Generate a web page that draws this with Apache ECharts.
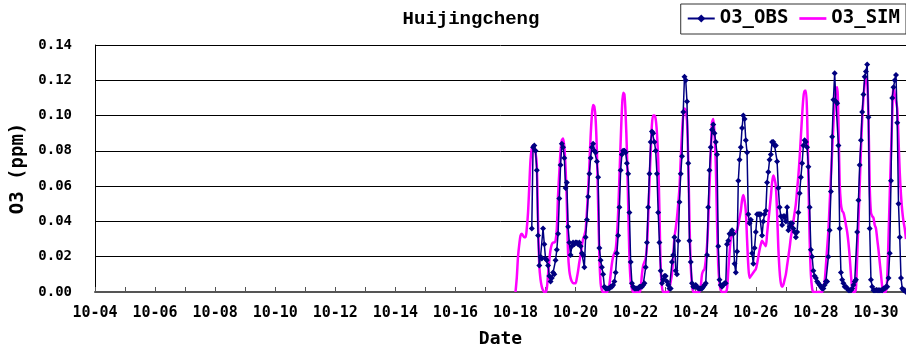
<!DOCTYPE html>
<html>
<head>
<meta charset="utf-8">
<script src="https://cdn.jsdelivr.net/npm/echarts@6/dist/echarts.min.js"></script>
<style>
  html, body { margin: 0; padding: 0; background: #fff; }
  #chart { width: 906px; height: 352px; }
</style>
</head>
<body>
<div id="chart"></div>
<script>
// hourly values, one row per day starting 10-18 (h0..h23)
const firstDay = 4;
const lastDay = 31;
const dataStartDay = 18;

const simRows = [
  [0, 0.008, 0.020, 0.027, 0.032, 0.033, 0.032, 0.031, 0.031, 0.036, 0.045, 0.060, 0.075, 0.081, 0.083, 0.082, 0.079, 0.072, 0.040, 0.015, 0.007, 0.003, 0.001, 0],
  [0, 0.002, 0.010, 0.018, 0.024, 0.027, 0.028, 0.028, 0.029, 0.036, 0.055, 0.068, 0.080, 0.086, 0.087, 0.082, 0.070, 0.050, 0.022, 0.012, 0.008, 0.006, 0.005, 0.005],
  [0.005, 0.008, 0.012, 0.017, 0.021, 0.026, 0.030, 0.032, 0.035, 0.045, 0.058, 0.072, 0.088, 0.100, 0.106, 0.105, 0.098, 0.080, 0.050, 0.020, 0.005, 0.001, 0, 0],
  [0, 0, 0.001, 0.004, 0.010, 0.016, 0.020, 0.022, 0.024, 0.032, 0.045, 0.065, 0.085, 0.103, 0.113, 0.112, 0.100, 0.080, 0.050, 0.020, 0.006, 0.002, 0, 0],
  [0, 0, 0, 0, 0.002, 0.010, 0.015, 0.017, 0.019, 0.026, 0.042, 0.062, 0.079, 0.095, 0.100, 0.100, 0.098, 0.090, 0.075, 0.045, 0.014, 0.003, 0, 0],
  [0, 0, 0, 0.002, 0.006, 0.010, 0.020, 0.031, 0.036, 0.042, 0.050, 0.059, 0.075, 0.090, 0.100, 0.104, 0.103, 0.097, 0.075, 0.040, 0.015, 0.004, 0, 0],
  [0, 0, 0, 0, 0.003, 0.010, 0.012, 0.013, 0.018, 0.026, 0.040, 0.060, 0.078, 0.096, 0.098, 0.090, 0.073, 0.040, 0.015, 0.005, 0.001, 0, 0, 0],
  [0, 0.002, 0.012, 0.022, 0.030, 0.032, 0.033, 0.033, 0.034, 0.035, 0.038, 0.042, 0.046, 0.052, 0.055, 0.052, 0.046, 0.030, 0.015, 0.008, 0.009, 0.010, 0.011, 0.012],
  [0.013, 0.016, 0.020, 0.024, 0.027, 0.029, 0.028, 0.027, 0.026, 0.033, 0.040, 0.047, 0.054, 0.062, 0.066, 0.064, 0.060, 0.045, 0.025, 0.012, 0.005, 0.003, 0.004, 0.007],
  [0.010, 0.015, 0.020, 0.025, 0.031, 0.035, 0.040, 0.045, 0.050, 0.058, 0.066, 0.076, 0.088, 0.100, 0.110, 0.114, 0.114, 0.100, 0.065, 0.030, 0.010, 0.002, 0, 0],
  [0, 0, 0, 0, 0, 0, 0.002, 0.006, 0.015, 0.025, 0.035, 0.050, 0.065, 0.080, 0.095, 0.108, 0.115, 0.116, 0.096, 0.062, 0.050, 0.046, 0.045, 0.042],
  [0.038, 0.034, 0.028, 0.020, 0.010, 0.002, 0, 0, 0.002, 0.020, 0.040, 0.060, 0.081, 0.098, 0.110, 0.118, 0.121, 0.119, 0.100, 0.060, 0.045, 0.043, 0.042, 0.038],
  [0.036, 0.030, 0.024, 0.017, 0.010, 0.003, 0, 0, 0, 0.008, 0.030, 0.055, 0.078, 0.100, 0.116, 0.112, 0.108, 0.104, 0.087, 0.068, 0.055, 0.046, 0.040, 0.036],
  [0.030]
];

const obsRows = [
  [null, null, null, null, null, null, null, null, null, null, null, null, null, 0.036, 0.082, 0.083, 0.080, 0.069, 0.032, 0.015, 0.020, 0.019, 0.036, 0.027],
  [0.019, 0.018, 0.015, 0.009, 0.006, 0.008, 0.011, 0.010, 0.018, 0.024, 0.033, 0.053, 0.072, 0.084, 0.082, 0.076, 0.059, 0.062, 0.037, 0.028, 0.021, 0.026, 0.028, 0.027],
  [0.028, 0.028, 0.027, 0.028, 0.026, 0.022, 0.021, 0.014, 0.031, 0.041, 0.054, 0.067, 0.076, 0.082, 0.084, 0.080, 0.079, 0.074, 0.065, 0.025, 0.018, 0.014, 0.010, 0.003],
  [0.002, 0.002, 0.002, 0.002, 0.003, 0.003, 0.004, 0.006, 0.011, 0.022, 0.032, 0.048, 0.069, 0.078, 0.080, 0.080, 0.079, 0.073, 0.067, 0.045, 0.017, 0.005, 0.003, 0.002],
  [0.002, 0.002, 0.002, 0.003, 0.003, 0.003, 0.004, 0.005, 0.014, 0.028, 0.048, 0.067, 0.085, 0.091, 0.090, 0.085, 0.080, 0.067, 0.045, 0.028, 0.012, 0.005, 0.007, 0.009],
  [0.009, 0.006, 0.004, 0.002, 0.002, 0.017, 0.021, 0.031, 0.012, 0.010, 0.029, 0.051, 0.067, 0.077, 0.102, 0.122, 0.120, 0.108, 0.073, 0.029, 0.017, 0.005, 0.003, 0.003],
  [0.004, 0.003, 0.002, 0.002, 0.002, 0.002, 0.003, 0.004, 0.005, 0.021, 0.048, 0.069, 0.082, 0.092, 0.095, 0.090, 0.085, 0.078, 0.026, 0.007, 0.004, 0.003, 0.004, 0.005],
  [0.005, 0.027, 0.029, 0.033, 0.033, 0.035, 0.033, 0.016, 0.011, 0.023, 0.063, 0.075, 0.082, 0.093, 0.100, 0.098, 0.086, 0.079, 0.044, 0.039, 0.041, 0.022, 0.016, 0.025],
  [0.034, 0.044, 0.044, 0.044, 0.044, 0.032, 0.040, 0.044, 0.046, 0.062, 0.068, 0.075, 0.078, 0.085, 0.085, 0.083, 0.083, 0.074, 0.059, 0.048, 0.043, 0.038, 0.043, 0.043],
  [0.040, 0.048, 0.035, 0.037, 0.039, 0.039, 0.036, 0.034, 0.031, 0.034, 0.045, 0.056, 0.065, 0.073, 0.083, 0.086, 0.085, 0.082, 0.071, 0.048, 0.024, 0.020, 0.012, 0.009],
  [0.008, 0.006, 0.005, 0.004, 0.003, 0.002, 0.002, 0.004, 0.006, 0.006, 0.020, 0.035, 0.057, 0.088, 0.109, 0.124, 0.108, 0.107, 0.083, 0.036, 0.011, 0.007, 0.005, 0.003],
  [0.003, 0.002, 0.001, 0.001, 0.001, 0.002, 0.004, 0.006, 0.007, 0.034, 0.052, 0.072, 0.086, 0.102, 0.112, 0.122, 0.125, 0.129, 0.099, 0.036, 0.007, 0.003, 0.001, 0.001],
  [0.001, 0.001, 0.001, 0.001, 0.001, 0.001, 0.002, 0.002, 0.003, 0.003, 0.008, 0.022, 0.063, 0.110, 0.116, 0.120, 0.123, 0.096, 0.050, 0.031, 0.008, 0.002, 0.001, 0.001],
  [0]
];

const seriesNames = ['O3_OBS', 'O3_SIM'];

function toPoints(rows) {
  const out = [];
  rows.forEach((row, i) => {
    const dayOffset = (dataStartDay + i - firstDay) * 24;
    row.forEach((v, h) => {
      if (v !== null) out.push([dayOffset + h, v]);
    });
  });
  return out;
}

const pad = (n) => (n < 10 ? '0' + n : '' + n);
const mono = 'DejaVu Sans Mono';

const chart = echarts.init(document.getElementById('chart'), null, { renderer: 'canvas' });
chart.setOption({
  animation: false,
  backgroundColor: '#fff',
  title: {
    text: 'Huijingcheng',
    left: 466,
    top: 5,
    textAlign: 'center',
    textStyle: { fontFamily: 'Liberation Mono', fontSize: 19, fontWeight: 'bold', color: '#000' }
  },
  legend: {
    orient: 'horizontal',
    right: 0,
    top: 4,
    width: 250,
    padding: [5, 6, 6, 6],
    itemGap: 11,
    itemWidth: 27,
    itemHeight: 10,
    borderColor: '#333',
    borderWidth: 1,
    backgroundColor: '#fff',
    textStyle: { fontFamily: mono, fontSize: 19, fontWeight: 'bold', color: '#000' },
    data: [
      { name: seriesNames[0] },
      { name: seriesNames[1], icon: 'path://M0,0 L20,0 L20,2 L0,2 Z' }
    ]
  },
  grid: { left: 95, right: 0, top: 45, bottom: 60, containLabel: false, outerBoundsMode: 'none' },
  xAxis: {
    type: 'value',
    min: 0,
    max: (lastDay - firstDay) * 24,
    interval: 24,
    name: 'Date',
    nameLocation: 'middle',
    nameGap: 38,
    nameTextStyle: { fontFamily: mono, fontSize: 18, fontWeight: 'bold', color: '#000' },
    axisLine: { lineStyle: { color: '#555', width: 2 } },
    axisTick: { inside: true, length: 5, lineStyle: { color: '#555' } },
    splitLine: { show: false },
    axisLabel: {
      margin: 14,
      fontFamily: mono,
      fontSize: 15,
      fontWeight: 'bold',
      color: '#000',
      formatter: (v) => {
        const d = Math.round(v / 24);
        return d % 2 === 0 ? '10-' + pad(firstDay + d) : '';
      }
    }
  },
  yAxis: {
    type: 'value',
    min: 0,
    max: 0.14,
    interval: 0.02,
    name: 'O3 (ppm)',
    nameLocation: 'middle',
    nameGap: 64,
    nameTextStyle: { fontFamily: mono, fontSize: 19, fontWeight: 'bold', color: '#000' },
    axisLine: { show: true, lineStyle: { color: '#000', width: 1 } },
    axisTick: { show: false },
    splitLine: { lineStyle: { color: '#000', width: 1 } },
    axisLabel: {
      margin: 23,
      fontFamily: mono,
      fontSize: 14,
      fontWeight: 'bold',
      color: '#000',
      formatter: (v) => v.toFixed(2)
    }
  },
  series: [
    {
      name: 'O3_SIM',
      type: 'line',
      data: toPoints(simRows),
      smooth: 0.3,
      showSymbol: false,
      symbol: 'none',
      color: '#ff00ff',
      lineStyle: { color: '#ff00ff', width: 2.5 },
      z: 2
    },
    {
      name: 'O3_OBS',
      type: 'line',
      data: toPoints(obsRows),
      symbol: 'diamond',
      symbolSize: 6,
      showAllSymbol: true,
      color: '#000080',
      itemStyle: { color: '#000080' },
      lineStyle: { color: '#000080', width: 1.5 },
      z: 3
    }
  ]
});
</script>
</body>
</html>
